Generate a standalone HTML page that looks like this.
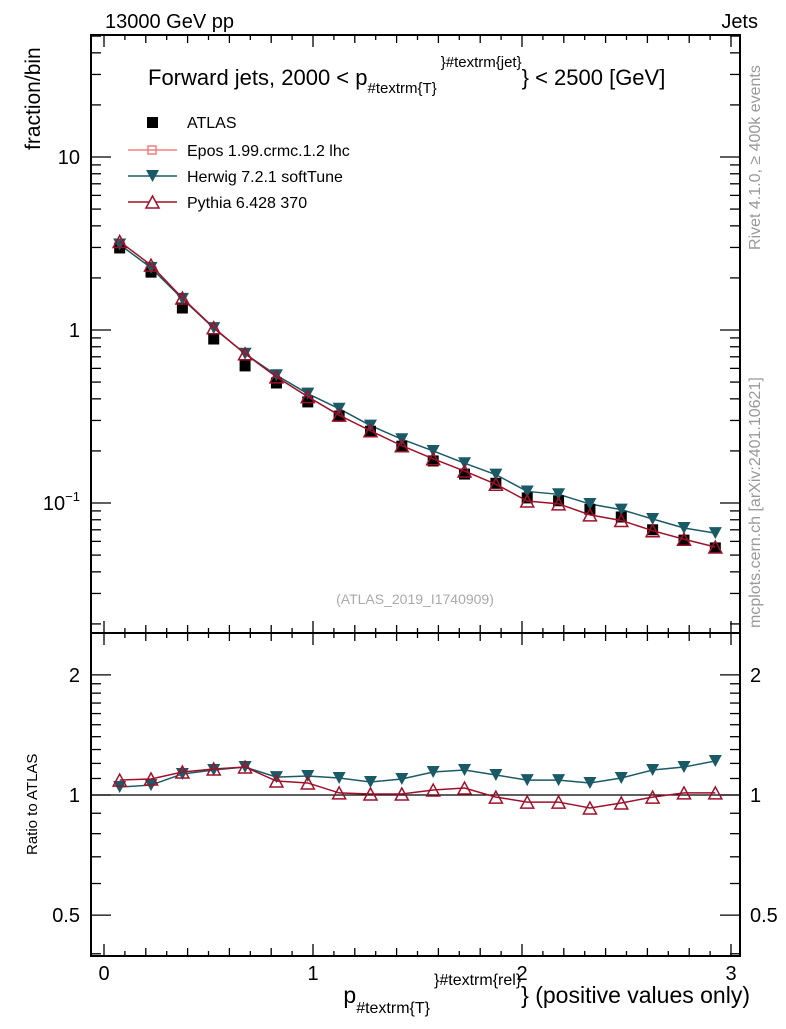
<!DOCTYPE html>
<html><head><meta charset="utf-8"><style>
body{margin:0;background:#fff;}
svg text{font-family:"Liberation Sans",sans-serif;}
</style></head><body>
<svg id="c" width="786" height="1024" xmlns="http://www.w3.org/2000/svg">
<text x="105" y="28" font-size="20">13000 GeV pp</text>
<text x="758" y="28" font-size="20" text-anchor="end">Jets</text>
<text x="148" y="85" font-size="22">Forward jets, 2000 &lt; p<tspan font-size="15" dy="8">#textrm{T}</tspan><tspan font-size="15" dy="-26" dx="4">}#textrm{jet}</tspan><tspan dy="18">} &lt; 2500 [GeV]</tspan></text>
<text transform="translate(760,250) rotate(-90)" font-size="16" fill="#999">Rivet 4.1.0, ≥ 400k events</text>
<text transform="translate(760,628) rotate(-90)" font-size="16" fill="#999">mcplots.cern.ch [arXiv:2401.10621]</text>
<text x="415" y="604" font-size="14" fill="#aaa" text-anchor="middle">(ATLAS_2019_I1740909)</text>
<text transform="translate(40,150) rotate(-90)" font-size="21">fraction/bin</text>
<text transform="translate(37,855) rotate(-90)" font-size="15">Ratio to ATLAS</text>
<text x="750" y="1003" font-size="23" text-anchor="end">p<tspan font-size="16" dy="10">#textrm{T}</tspan><tspan font-size="16" dy="-28" dx="4">}#textrm{rel}</tspan><tspan dy="18">} (positive values only)</tspan></text>
<g>
<rect x="147" y="117" width="11" height="11" fill="#000"/>
<text x="187" y="128" font-size="16">ATLAS</text>
<line x1="128" y1="150" x2="177" y2="150" stroke="#f08080" stroke-width="1.5"/>
<rect x="148" y="146" width="8" height="8" fill="none" stroke="#f08080" stroke-width="1.5"/>
<text x="187" y="156" font-size="16">Epos 1.99.crmc.1.2 lhc</text>
<line x1="128" y1="176" x2="177" y2="176" stroke="#1a5a66" stroke-width="1.5"/>
<path d="M146,170 L159,170 L152.5,182 Z" fill="#1a5a66"/>
<text x="187" y="182" font-size="16">Herwig 7.2.1 softTune</text>
<line x1="128" y1="202" x2="177" y2="202" stroke="#a0102a" stroke-width="1.5"/>
<path d="M146,208 L159,208 L152.5,196 Z" fill="#fff" stroke="#a0102a" stroke-width="1.5"/>
<text x="187" y="208" font-size="16">Pythia 6.428 370</text>
</g>
<g id="axes"></g>
<g id="marks"></g>
</svg>
<script>
const xCenters=[0.075,0.225,0.375,0.525,0.675,0.825,0.975,1.125,1.275,1.425,1.575,1.725,1.875,2.025,2.175,2.325,2.475,2.625,2.775,2.925];
const atlas=[2.98,2.16,1.34,0.887,0.62,0.494,0.384,0.318,0.26,0.213,0.175,0.147,0.13,0.107,0.103,0.092,0.083,0.070,0.061,0.055];
const herwigRatio=[1.047,1.059,1.129,1.155,1.175,1.109,1.116,1.103,1.078,1.097,1.142,1.155,1.122,1.090,1.090,1.072,1.103,1.155,1.175,1.217];
const pythiaRatio=[1.090,1.097,1.142,1.162,1.175,1.084,1.072,1.012,1.006,1.006,1.029,1.041,0.988,0.960,0.960,0.928,0.955,0.988,1.012,1.012];
const xTicks=[0,1,2,3];
const mainTicks=[10,1,0.1];
const ratioTicks=[2,1,0.5];

const NS="http://www.w3.org/2000/svg";
const L=91,R=740,T1=35,B1=633,T2=633,B2=956;
const X=v=>104+v*209;
const Y=v=>330-Math.log10(v)*173;
const YR=v=>795-Math.log10(v)*399;
const ax=document.getElementById('axes'),mk=document.getElementById('marks');
function el(t,a,p){const e=document.createElementNS(NS,t);for(const k in a)e.setAttribute(k,a[k]);p.appendChild(e);return e;}
let f1=el('rect',{x:L,y:T1,width:R-L,height:B1-T1,fill:'none',stroke:'#000','stroke-width':2},ax);


let f2=el('rect',{x:L,y:T2,width:R-L,height:B2-T2,fill:'none',stroke:'#000','stroke-width':2},ax);


for(let i=0;i<=30;i++){const v=i/10,x=X(v);if(x>R)break;
 const len=i%10==0?12:(i%2==0?8:5);
 [[B1,-1],[T1,1],[T2,1],[B2,-1]].forEach(([y,d])=>el('line',{x1:x,x2:x,y1:y,y2:y+d*len,stroke:'#000','stroke-width':1.3},ax));}
xTicks.forEach(v=>{const t=el('text',{x:X(v),y:980,'font-size':20,'text-anchor':'middle'},ax);t.textContent=v;
 
 });
for(let d=-2;d<=1;d++)for(let m=1;m<10;m++){const v=m*Math.pow(10,d),y=Y(v);if(y<T1||y>B1)continue;
 const len=m==1?20:10;el('line',{x1:L,x2:L+len,y1:y,y2:y,stroke:'#000','stroke-width':1.3},ax);el('line',{x1:R,x2:R-len,y1:y,y2:y,stroke:'#000','stroke-width':1.3},ax);}
mainTicks.forEach(v=>{const t=el('text',{x:80,y:Y(v)+7,'font-size':20,'text-anchor':'end'},ax);
 if(v==0.1){t.innerHTML='10<tspan font-size="13" dy="-9">−1</tspan>';}else t.textContent=v;
 
 });
[0.4,0.5,0.6,0.7,0.8,0.9,1,2].concat([1.1,1.2,1.3,1.4,1.5,1.6,1.7,1.8,1.9]).forEach(v=>{const y=YR(v);const len=(v==1||v==2||v==0.5)?20:10;
 el('line',{x1:L,x2:L+len,y1:y,y2:y,stroke:'#000','stroke-width':1.3},ax);el('line',{x1:R,x2:R-len,y1:y,y2:y,stroke:'#000','stroke-width':1.3},ax);});
ratioTicks.forEach(v=>{[[80,'end'],[750,'start']].forEach(([x,a])=>{const t=el('text',{x:x,y:YR(v)+7,'font-size':20,'text-anchor':a},ax);t.textContent=v;
 
 });});
el('line',{x1:L,x2:R,y1:YR(1),y2:YR(1),stroke:'#000','stroke-width':1.3},ax);
const herwig=atlas.map((v,i)=>v*herwigRatio[i]);
const pythia=atlas.map((v,i)=>v*pythiaRatio[i]);
function line(vals,f,col,name){const p=el('polyline',{points:vals.map((v,i)=>X(xCenters[i])+','+f(v)).join(' '),fill:'none',stroke:col,'stroke-width':1.5},mk);
 
 }
function down(x,y,name){const p=el('path',{d:`M${x-6.5},${y-6} L${x+6.5},${y-6} L${x},${y+6} Z`,fill:'#1a5a66'},mk);
 
 }
function up(x,y,name){const p=el('path',{d:`M${x-6.5},${y+6} L${x+6.5},${y+6} L${x},${y-6} Z`,fill:'none',stroke:'#a0102a','stroke-width':1.5},mk);
 
 }
line(herwig,Y,'#1a5a66','herwig-line');
atlas.forEach((v,i)=>{const r=el('rect',{x:X(xCenters[i])-5.5,y:Y(v)-5.5,width:11,height:11,fill:'#000'},mk);
 
 });
herwig.forEach((v,i)=>down(X(xCenters[i]),Y(v),'herwig-point'));
line(pythia,Y,'#a0102a','pythia-line');
pythia.forEach((v,i)=>up(X(xCenters[i]),Y(v),'pythia-point'));
line(herwigRatio,YR,'#1a5a66','herwig-ratio-line');
herwigRatio.forEach((v,i)=>down(X(xCenters[i]),YR(v),'herwig-ratio-point'));
line(pythiaRatio,YR,'#a0102a','pythia-ratio-line');
pythiaRatio.forEach((v,i)=>up(X(xCenters[i]),YR(v),'pythia-ratio-point'));
</script>
</body></html>
